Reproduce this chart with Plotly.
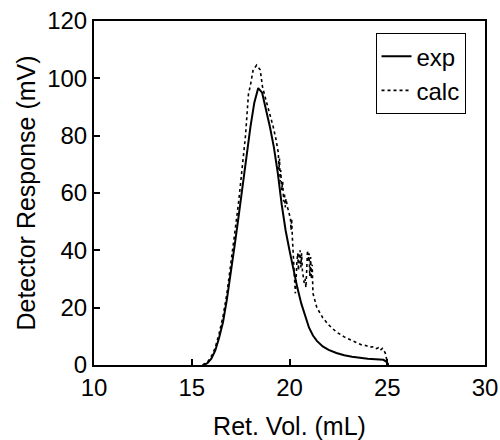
import plotly.graph_objects as go

# Experimental trace (smooth)
exp_x = [15.6, 15.8, 16.0, 16.2, 16.4, 16.6, 16.8, 17.0, 17.2, 17.4, 17.6, 17.8,
         18.0, 18.2, 18.4, 18.6, 18.8, 19.0, 19.2, 19.4, 19.6, 19.8, 20.0, 20.2,
         20.4, 20.6, 20.8, 21.0, 21.2, 21.4, 21.7, 22.0, 22.4, 22.8, 23.2, 23.6,
         24.0, 24.4, 24.8, 24.95, 25.05]
exp_y = [0.0, 0.6, 2.2, 5.0, 9.5, 15.0, 23.0, 32.0, 42.0, 52.0, 62.5, 72.5,
         83.0, 91.5, 96.6, 95.0, 89.5, 83.0, 76.0, 67.0, 56.0, 47.0, 40.0, 33.0,
         27.0, 21.5, 17.0, 13.0, 10.3, 8.4, 6.5, 5.3, 4.2, 3.4, 2.9, 2.5,
         2.2, 2.0, 1.8, 1.2, 0.0]

# Calculated trace (noisy)
calc_x = [15.55, 15.8, 16.0, 16.2, 16.4, 16.6, 16.8, 17.0, 17.2, 17.4, 17.6, 17.75,
          17.9, 18.0, 18.14, 18.32, 18.5, 18.62, 18.75, 18.85, 19.0, 19.17, 19.3,
          19.43, 19.46, 19.49, 19.52, 19.55, 19.6, 19.65, 19.7, 19.74, 19.78, 19.82,
          19.9, 19.98, 20.05, 20.08, 20.11, 20.15, 20.2, 20.25, 20.3, 20.34, 20.38,
          20.42, 20.46, 20.5, 20.54, 20.58, 20.62, 20.66, 20.7, 20.75, 20.8, 20.84,
          20.88, 20.92, 20.96, 21.0, 21.04, 21.08, 21.12, 21.16, 21.2, 21.3, 21.4,
          21.7, 22.0, 22.4, 22.8, 23.2, 23.5, 23.7, 23.9, 24.1, 24.3, 24.45, 24.55,
          24.65, 24.75, 24.82, 24.9, 24.97, 25.05]
calc_y = [0.0, 1.0, 3.0, 6.0, 11.0, 17.0, 25.0, 35.0, 46.0, 57.0, 69.0, 80.0,
          94.5, 97.5, 103.0, 104.6, 103.0, 97.0, 93.6, 91.0, 88.0, 83.0, 79.0,
          74.0, 68.0, 72.0, 64.0, 68.0, 61.0, 64.0, 57.0, 60.0, 55.0, 58.0,
          55.0, 53.0, 51.0, 47.0, 51.0, 44.0, 39.0, 31.0, 25.0, 32.0, 36.0,
          39.0, 33.0, 38.0, 40.0, 34.0, 39.0, 33.0, 31.0, 28.6, 30.0, 27.0,
          33.0, 40.0, 36.0, 39.0, 31.0, 37.7, 30.0, 35.0, 25.0, 22.0, 20.0,
          16.5, 14.0, 11.5, 9.8, 8.5, 7.6, 7.0, 6.8, 6.2, 6.4, 5.7, 6.0,
          5.2, 5.8, 4.8, 4.2, 2.0, 0.0]

x_ticks = [10, 15, 20, 25, 30]
y_ticks = [0, 20, 40, 60, 80, 100, 120]

FAM = "Liberation Sans, Arial, sans-serif"

fig = go.Figure()
fig.add_trace(go.Scatter(x=exp_x, y=exp_y, mode="lines", name="exp",
                         line=dict(color="black", width=2)))
fig.add_trace(go.Scatter(x=calc_x, y=calc_y, mode="lines", name="calc",
                         line=dict(color="black", width=1.6, dash="dot")))

fig.update_layout(
    width=500, height=440,
    margin=dict(l=94, r=15, t=21, b=75),
    paper_bgcolor="white", plot_bgcolor="white",
    font=dict(family=FAM, size=24, color="black"),
    showlegend=True,
    legend=dict(x=0.72, y=0.965, xanchor="left", yanchor="top",
                bgcolor="white", bordercolor="black", borderwidth=1,
                font=dict(size=24, family=FAM),
                itemwidth=30, tracegroupgap=0),
    xaxis=dict(range=[10, 30], tickvals=x_ticks, ticks="inside", ticklen=6,
               tickwidth=1.5, tickcolor="black", showline=True, linecolor="black",
               linewidth=2, mirror=True, showgrid=False, zeroline=False,
               automargin=False,
               title=dict(text="Ret. Vol. (mL)", font=dict(size=25), standoff=20),
               tickfont=dict(size=24)),
    yaxis=dict(range=[0, 120], tickvals=y_ticks, ticks="inside", ticklen=6,
               tickwidth=1.5, tickcolor="black", showline=True, linecolor="black",
               linewidth=2, mirror=True, showgrid=False, zeroline=False,
               automargin=False,
               title=dict(text="Detector Response (mV)", font=dict(size=25), standoff=4),
               tickfont=dict(size=24)),
)

fig.write_html("out.html")
